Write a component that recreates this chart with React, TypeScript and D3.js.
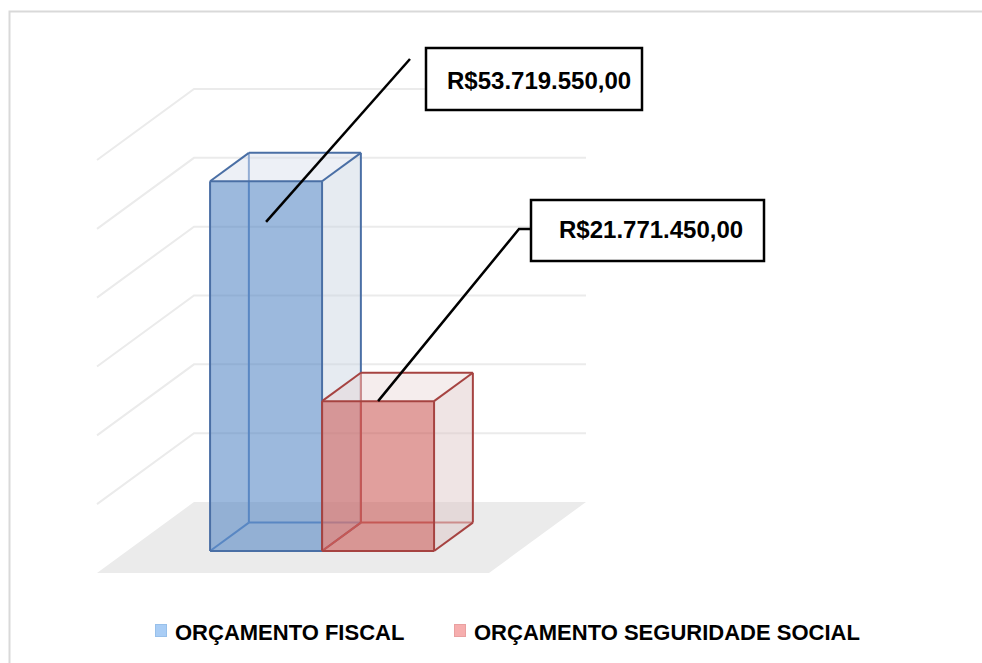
import { useEffect } from "react";
import * as d3 from "d3";

const series = ["ORÇAMENTO FISCAL", "ORÇAMENTO SEGURIDADE SOCIAL"];
const values = [53719550, 21771450];
const valueLabels = ["R$53.719.550,00", "R$21.771.450,00"];
const tickValues = [0, 10000000, 20000000, 30000000, 40000000, 50000000, 60000000];

const width = 982;
const height = 663;

// oblique 3d projection of the plot box
const origin = { x: 97, y: 573 };
const depthVec = { dx: 97, dy: -71 };
const floorWidth = 392;
const barDepth: [number, number] = [0.31, 0.71];

const colors = [
  { front: "#4a7fc1", side: "rgba(200,210,225,0.45)", top: "rgba(210,218,232,0.4)", edge: "#4a6fa5", hidden: "#6a90c6", legend: "#a9cdf5", legendEdge: "#98c0ea" },
  { front: "#c8504d", side: "rgba(220,195,196,0.45)", top: "rgba(228,208,208,0.38)", edge: "#a64341", hidden: "#c2625f", legend: "#f6aeae", legendEdge: "#e9a0a0" },
];

// label callouts (box placement + where the leader touches the bar)
const callouts = [
  { box: [426, 48, 216, 62], textX: 447, base: 89, anchorFrac: 0.89, path: [[410, 59]] },
  { box: [531, 200, 233, 61], textX: 559, base: 238, anchorFrac: 1, path: [[519, 229], [531, 229]] },
];

export default function App() {
  useEffect(() => {
    document.body.style.margin = "0";
  }, []);

  const y = d3.scaleLinear().domain([0, 60000000]).range([0, 413]);
  const x = d3.scaleBand<string>().domain(series).range([83, 307]).paddingInner(0);

  const proj = (wx: number, h: number, z: number): [number, number] => [
    origin.x + wx + z * depthVec.dx,
    origin.y - h - z * depthVec.dy * -1 * 1,
  ];
  const pts = (arr: [number, number][]) => arr.map((p) => p.join(",")).join(" ");
  const line = d3.line();

  const floor = pts([proj(0, 0, 0), proj(floorWidth, 0, 0), proj(floorWidth, 0, 1), proj(0, 0, 1)]);

  return (
    <svg width={width} height={height} style={{ display: "block", fontFamily: "Arial, 'Liberation Sans', sans-serif" }}>
      <rect x={0} y={0} width={width} height={height} fill="#fff" />
      <rect x={9.5} y={11.5} width={1000} height={700} fill="none" stroke="#d9d9d9" strokeWidth={2} />

      {/* floor */}
      <polygon points={floor} fill="#ebebeb" />

      {/* gridlines on side wall and back wall */}
      {tickValues.filter((t) => t > 0).map((t) => (
        <path
          key={t}
          d={line([proj(0, y(t), 0), proj(0, y(t), 1), proj(floorWidth, y(t), 1)]) ?? ""}
          fill="none"
          stroke="#ebebeb"
          strokeWidth={2}
        />
      ))}

      {/* bars */}
      {series.map((s, i) => {
        const c = colors[i];
        const x0 = x(s) ?? 0;
        const x1 = x0 + x.bandwidth();
        const h = y(values[i]);
        const [z0, z1] = barDepth;
        const FLB = proj(x0, 0, z0), FRB = proj(x1, 0, z0), FRT = proj(x1, h, z0), FLT = proj(x0, h, z0);
        const BLB = proj(x0, 0, z1), BRB = proj(x1, 0, z1), BRT = proj(x1, h, z1), BLT = proj(x0, h, z1);
        const hiddenEdges: [number, number][][] = [[BLB, BRB], [BLB, BLT], [BLB, FLB]];
        const visibleEdges: [number, number][][] = [
          [FLB, FRB], [FRB, FRT], [FRT, FLT], [FLT, FLB],
          [FRB, BRB], [BRB, BRT], [BRT, FRT], [BRT, BLT], [BLT, FLT],
        ];
        return (
          <g key={s}>
            {hiddenEdges.map((e, k) => (
              <path key={k} d={line(e) ?? ""} stroke={c.hidden} strokeWidth={2} fill="none" />
            ))}
            <polygon points={pts([FRB, BRB, BRT, FRT])} fill={c.side} />
            <polygon points={pts([FLT, FRT, BRT, BLT])} fill={c.top} />
            <polygon points={pts([FLB, FRB, FRT, FLT])} fill={c.front} fillOpacity={0.55} />
            {visibleEdges.map((e, k) => (
              <path key={k} d={line(e) ?? ""} stroke={c.edge} strokeWidth={2} fill="none" strokeLinejoin="round" />
            ))}
          </g>
        );
      })}

      {/* callouts */}
      {series.map((s, i) => {
        const co = callouts[i];
        const mid = (x(s) ?? 0) + x.bandwidth() / 2;
        const anchor = proj(mid, y(values[i]) * co.anchorFrac, barDepth[0]);
        const leader = [anchor, ...co.path] as [number, number][];
        const [bx, by, bw, bh] = co.box;
        return (
          <g key={s}>
            <path d={line(leader) ?? ""} stroke="#000" strokeWidth={2.5} fill="none" />
            <rect x={bx} y={by} width={bw} height={bh} fill="#fff" stroke="#000" strokeWidth={2.5} />
            <text x={co.textX} y={co.base} fontSize={24} fontWeight="bold" fill="#000">
              {valueLabels[i]}
            </text>
          </g>
        );
      })}

      {/* legend */}
      {series.map((s, i) => {
        const lx = [155, 454][i];
        return (
          <g key={s}>
            <rect x={lx + 0.5} y={624.5} width={11} height={12} fill={colors[i].legend} stroke={colors[i].legendEdge} />
            <text x={lx + 20} y={640} fontSize={22} fontWeight="bold" fill="#000">
              {s}
            </text>
          </g>
        );
      })}
    </svg>
  );
}
